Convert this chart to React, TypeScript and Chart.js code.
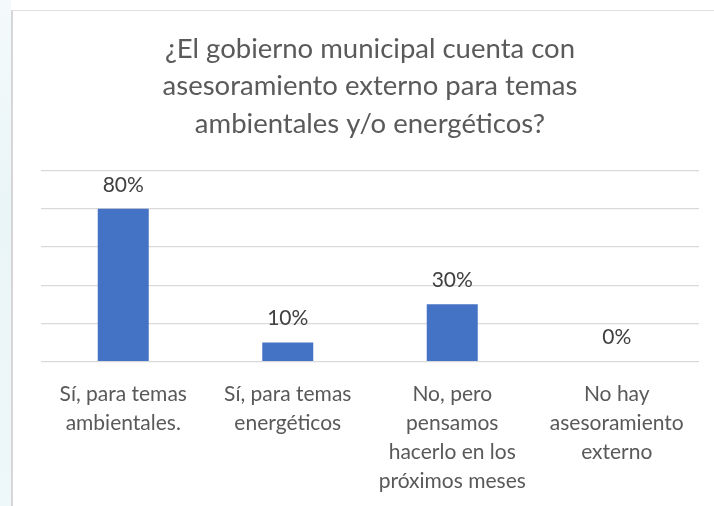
import React, { useEffect, useRef } from "react";
import { Chart, registerables } from "chart.js";

Chart.register(...registerables);

const titleLines = [
  "¿El gobierno municipal cuenta con",
  "asesoramiento externo para temas",
  "ambientales y/o energéticos?",
];
const categories = [
  ["Sí, para temas", "ambientales."],
  ["Sí, para temas", "energéticos"],
  ["No, pero", "pensamos", "hacerlo en los", "próximos meses"],
  ["No hay", "asesoramiento", "externo"],
];
const values = [80, 10, 30, 0];
const yMin = 0;
const yMax = 100;
const yStep = 20;

const FONT = "Lato, 'Open Sans', sans-serif";

const valueLabels = {
  id: "valueLabels",
  afterDatasetsDraw(chart: any) {
    const ctx = chart.ctx;
    const meta = chart.getDatasetMeta(0);
    ctx.save();
    ctx.font = `21px ${FONT}`;
    ctx.fillStyle = "#404040";
    ctx.textAlign = "center";
    ctx.textBaseline = "middle";
    meta.data.forEach((bar: any, i: number) => {
      ctx.fillText(`${values[i]}%`, bar.x, bar.y - 24);
    });
    ctx.restore();
  },
};

export default function App() {
  const ref = useRef<HTMLCanvasElement | null>(null);
  useEffect(() => {
    if (!ref.current) return;
    const chart = new Chart(ref.current, {
      type: "bar",
      data: {
        labels: categories,
        datasets: [
          {
            data: values,
            backgroundColor: "#4472C4",
            borderWidth: 0,
            barPercentage: 0.31,
            categoryPercentage: 1,
          },
        ],
      },
      options: {
        responsive: false,
        animation: false,
        devicePixelRatio: 1,
        layout: { padding: { left: 28, right: 15, top: 0, bottom: 0 } },
        plugins: {
          legend: { display: false },
          tooltip: { enabled: false },
          title: {
            display: true,
            text: titleLines,
            color: "#5a5a5a",
            font: { family: FONT, size: 27.5, weight: "normal", lineHeight: 37.5 / 27.5 },
            padding: { top: 19, bottom: 28 },
          },
        },
        scales: {
          x: {
            grid: { display: false, drawTicks: false },
            border: { display: false },
            ticks: {
              color: "#595959",
              font: { family: FONT, size: 21, lineHeight: 29 / 21 },
              padding: 18,
              maxRotation: 0,
              minRotation: 0,
              autoSkip: false,
            },
            afterFit: (s: any) => {
              s.height = 144.3;
            },
          },
          y: {
            min: yMin,
            max: yMax,
            ticks: { display: false, stepSize: yStep },
            border: { display: false },
            grid: { color: "#d9d9d9", lineWidth: 1.3, drawTicks: false },
            afterFit: (s: any) => {
              s.width = 0;
            },
          },
        },
      },
      plugins: [valueLabels],
    });
    return () => chart.destroy();
  }, []);

  return (
    <div
      style={{
        position: "fixed",
        left: 0,
        top: 0,
        width: 714,
        height: 506,
        background: "#ffffff",
        overflow: "hidden",
      }}
    >
      <div
        style={{
          position: "absolute",
          left: 0,
          top: 0,
          width: 11,
          height: 506,
          background: "linear-gradient(180deg, #f4fafb 0%, #eaf5f7 40%, #eef7f9 100%)",
        }}
      />
      <div
        style={{
          position: "absolute",
          left: 11,
          top: 10,
          width: 703,
          height: 496,
          borderLeft: "2px solid #d6d6d6",
          borderTop: "1px solid #e0e0e0",
          background: "#ffffff",
        }}
      >
        <canvas ref={ref} width={701} height={495} style={{ display: "block" }} />
      </div>
    </div>
  );
}
